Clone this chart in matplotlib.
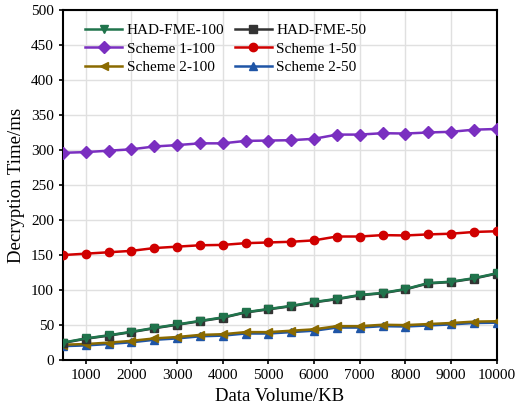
import matplotlib
matplotlib.use("Agg")
import matplotlib.pyplot as plt

# Decryption time vs. data volume for the three schemes at two attribute counts
data_kb = [500, 1000, 1500, 2000, 2500, 3000, 3500, 4000, 4500, 5000,
           5500, 6000, 6500, 7000, 7500, 8000, 8500, 9000, 9500, 10000]

had_fme_100 = [25, 31, 35.5, 40.5, 46, 51, 56, 61, 68.5, 73,
               77.5, 83, 87.5, 93, 96, 101.5, 110, 112, 117, 124]
had_fme_50 = [24.5, 30.5, 35, 40, 45.5, 50.5, 55.5, 60.5, 68, 72.5,
              77, 82.5, 87, 92.5, 95.5, 101, 109.5, 111.5, 116.5, 123.5]
scheme1_100 = [296, 297, 299, 301, 305, 307, 309.5, 309.5, 313, 313.5,
               314, 316, 322, 322, 324, 323.5, 325, 326, 329, 330]
scheme1_50 = [150, 152, 154, 156, 160, 162, 164, 164.5, 167, 168,
              169, 171, 176.5, 176.5, 178.5, 178, 179.5, 180.5, 183, 184]
scheme2_100 = [22, 23, 25, 27.5, 31, 33, 36, 37, 40, 40,
               42, 44, 48.5, 48.5, 50.5, 50, 51.5, 53, 55, 55.5]
scheme2_50 = [20, 21, 23, 25.5, 29, 31, 34, 35, 38, 38,
              40, 42, 46.5, 46.5, 48.5, 48, 49.5, 51, 53, 53.5]

series = [
    ("HAD-FME-100", had_fme_100, "#20744c", "v"),
    ("HAD-FME-50", had_fme_50, "#333333", "s"),
    ("Scheme 1-100", scheme1_100, "#7a2fc0", "D"),
    ("Scheme 1-50", scheme1_50, "#d00000", "o"),
    ("Scheme 2-100", scheme2_100, "#8a6a00", "<"),
    ("Scheme 2-50", scheme2_50, "#1f55a6", "^"),
]
draw_order = ["Scheme 2-50", "Scheme 2-100", "HAD-FME-50", "HAD-FME-100",
              "Scheme 1-50", "Scheme 1-100"]
# legend fills column-wise, so list it so the rows read in pairs
legend_order = ["HAD-FME-100", "Scheme 1-100", "Scheme 2-100",
                "HAD-FME-50", "Scheme 1-50", "Scheme 2-50"]

plt.rcParams["font.family"] = ["Liberation Serif", "DejaVu Serif"]

fig = plt.figure(figsize=(5.24, 4.13), dpi=100)
ax = fig.add_axes([0.120, 0.128, 0.828, 0.848])

lines = {}
for name, values, color, marker in series:
    (ln,) = ax.plot(data_kb, values, color=color, marker=marker, markersize=6,
                    linewidth=1.8, label=name,
                    zorder=3 + draw_order.index(name))
    lines[name] = ln

ax.set_xlim(500, 10000)
ax.set_ylim(0, 500)
ax.set_xticks(range(1000, 10001, 1000))
ax.set_yticks(range(0, 501, 50))
ax.tick_params(labelsize=11, direction="out", length=3, width=1.2)
ax.grid(True, color="#e0e0e0", linewidth=1)
ax.set_axisbelow(True)
for spine in ax.spines.values():
    spine.set_linewidth(1.5)

ax.set_xlabel("Data Volume/KB", fontsize=13.5)
ax.set_ylabel("Decryption Time/ms", fontsize=13.5)

ax.legend([lines[n] for n in legend_order], legend_order,
          ncol=2, frameon=False, fontsize=11, loc="upper left",
          bbox_to_anchor=(0.02, 1.0), handlelength=2.4, handletextpad=0.3,
          columnspacing=0.7, labelspacing=0.3)

fig.savefig("out.png", dpi=100)
